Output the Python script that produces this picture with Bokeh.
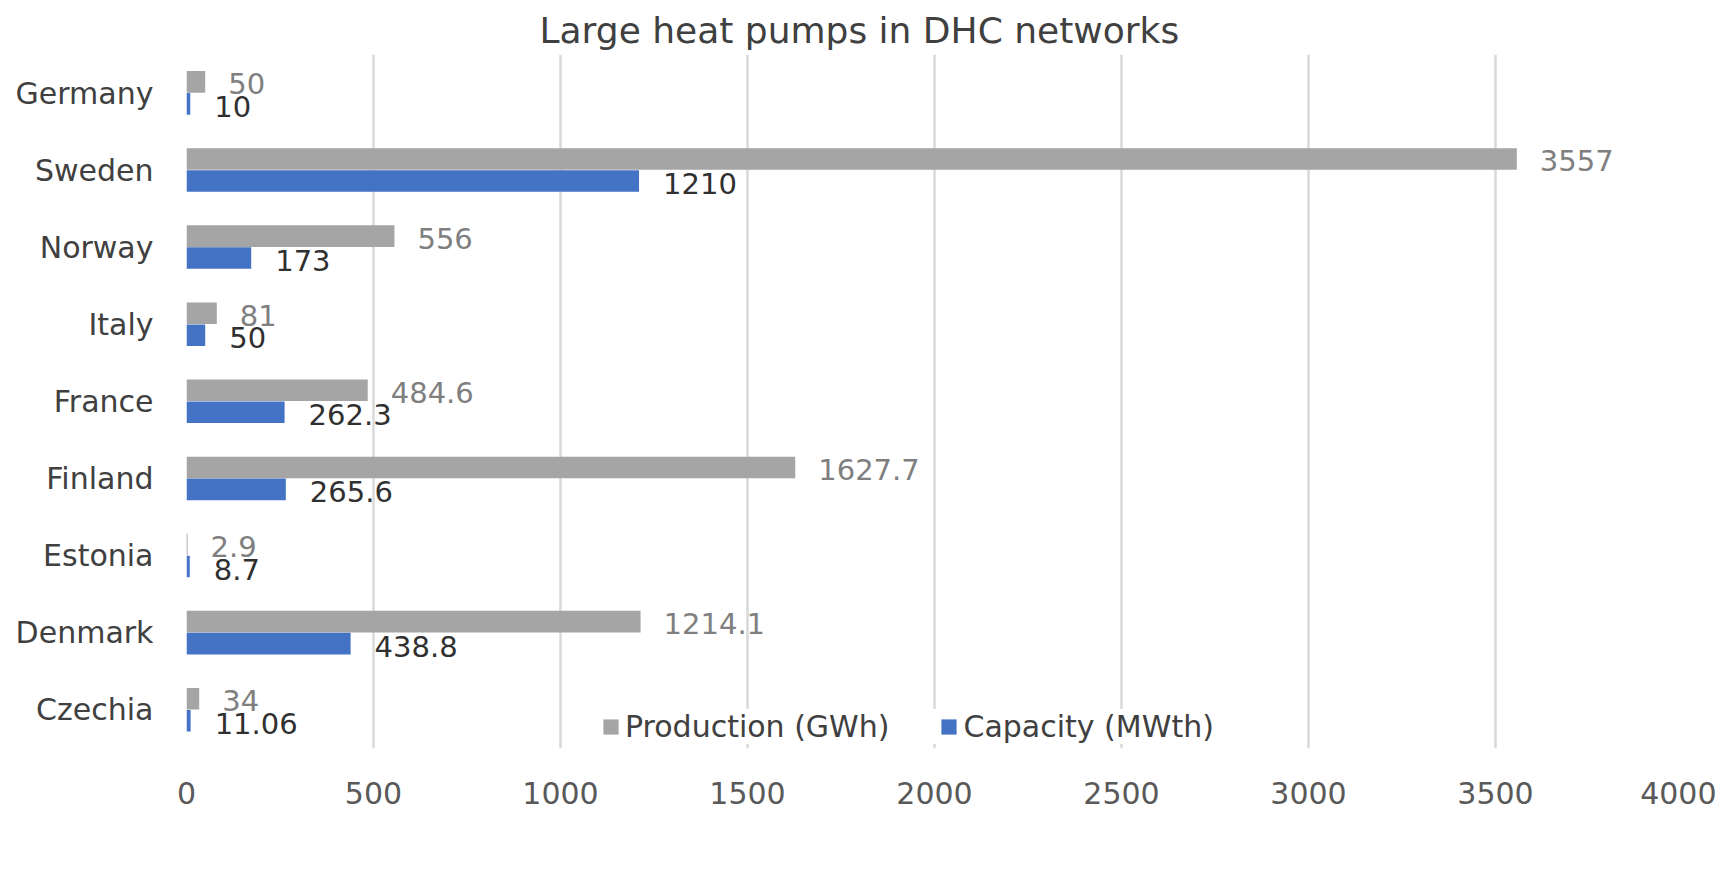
from bokeh.plotting import figure
from bokeh.models import ColumnDataSource, FactorRange, Range1d, Legend, LegendItem, FixedTicker
from bokeh.transform import dodge
from bokeh.core.properties import value
from bokeh.embed import file_html
from bokeh.resources import INLINE

# ---- data (top to bottom as in the chart) ----
countries = ["Germany", "Sweden", "Norway", "Italy", "France", "Finland", "Estonia", "Denmark", "Czechia"]
production = [50, 3557, 556, 81, 484.6, 1627.7, 2.9, 1214.1, 34]
capacity = [10, 1210, 173, 50, 262.3, 265.6, 8.7, 438.8, 11.06]
production_labels = ["50", "3557", "556", "81", "484.6", "1627.7", "2.9", "1214.1", "34"]
capacity_labels = ["10", "1210", "173", "50", "262.3", "265.6", "8.7", "438.8", "11.06"]
x_ticks = [0, 500, 1000, 1500, 2000, 2500, 3000, 3500, 4000]
series_names = ["Production (GWh)", "Capacity (MWth)"]
title_text = "Large heat pumps in DHC networks"

FONT = "DejaVu Sans"
GRAY = "#A5A5A5"
BLUE = "#4472C4"

src = ColumnDataSource(dict(
    country=countries,
    production=production,
    capacity=capacity,
    plab=production_labels,
    clab=capacity_labels,
))

p = figure(
    width=1716, height=866,
    y_range=FactorRange(factors=list(reversed(countries)), range_padding=0),
    x_range=Range1d(0, 4000),
    output_backend="svg", toolbar_location=None,
    min_border_left=186, min_border_right=34, min_border_top=54, min_border_bottom=118,
    outline_line_color=None,
)

r_prod = p.hbar(y=dodge("country", 0.145, range=p.y_range), right="production", left=0,
                height=0.28, source=src, fill_color=GRAY, line_color=None)
r_cap = p.hbar(y=dodge("country", -0.14, range=p.y_range), right="capacity", left=0,
               height=0.28, source=src, fill_color=BLUE, line_color=None)

p.text(x="production", y=dodge("country", 0.119, range=p.y_range), text="plab", source=src,
       x_offset=23, text_baseline="middle", text_align="left",
       text_font=value(FONT), text_font_size="29px", text_color="#7f7f7f")
p.text(x="capacity", y=dodge("country", -0.173, range=p.y_range), text="clab", source=src,
       x_offset=24, text_baseline="middle", text_align="left",
       text_font=value(FONT), text_font_size="29px", text_color="#303030")

# axes
p.xaxis.ticker = FixedTicker(ticks=x_ticks)
p.xaxis.axis_line_color = None
p.xaxis.major_tick_line_color = None
p.xaxis.minor_tick_line_color = None
p.xaxis.major_label_text_font = FONT
p.xaxis.major_label_text_font_size = "30px"
p.xaxis.major_label_text_color = "#595959"
p.xaxis.major_label_standoff = 27

p.yaxis.axis_line_color = None
p.yaxis.major_tick_line_color = None
p.yaxis.minor_tick_line_color = None
p.yaxis.major_label_text_font = FONT
p.yaxis.major_label_text_font_size = "30px"
p.yaxis.major_label_text_color = "#404040"
p.yaxis.major_label_standoff = 27

p.ygrid.grid_line_color = None
p.xgrid.grid_line_color = "#d9d9d9"
p.xgrid.grid_line_width = 2.5

# title
p.title.text = title_text
p.title.align = "left"
p.title.offset = 353
p.title.standoff = 8
p.title.text_font = FONT
p.title.text_font_size = "36px"
p.title.text_font_style = "normal"
p.title.text_color = "#404040"

# legend (inside the plot frame, bottom centre, on a white box)
legend = Legend(
    items=[LegendItem(label=series_names[0], renderers=[r_prod]),
           LegendItem(label=series_names[1], renderers=[r_cap])],
    orientation="horizontal", location=(415, 4),
    label_text_font=FONT, label_text_font_size="30px", label_text_color="#404040",
    label_height=34, glyph_width=19, glyph_height=19, label_standoff=5, spacing=50,
    padding=4, margin=0, background_fill_color="white", background_fill_alpha=1.0,
    border_line_color=None,
)
p.add_layout(legend, "center")

open("out.html", "w").write(file_html(p, INLINE))
